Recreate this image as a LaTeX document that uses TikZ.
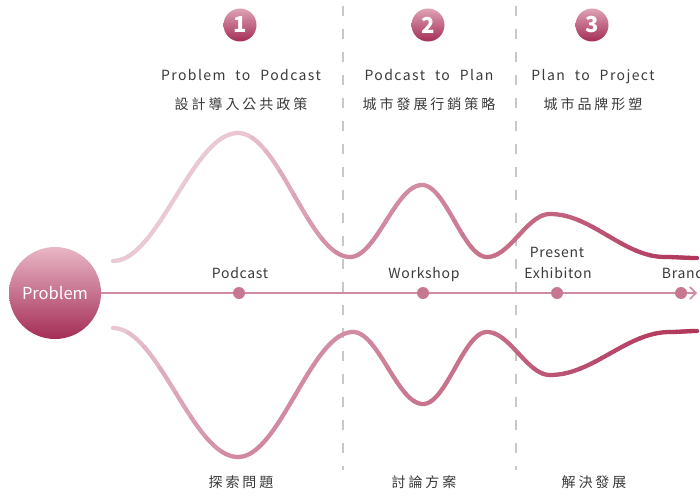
\documentclass[tikz,border=0pt]{standalone}
\usepackage{fontspec}
\setmainfont{Noto Sans CJK TC}
\newfontfamily\spaced{Noto Sans CJK TC}[LetterSpace=5]
\newfontfamily\widespaced{Noto Sans CJK TC}[LetterSpace=10,WordSpace=2.2]
\newfontfamily\cjkspaced{Noto Sans CJK TC}[LetterSpace=21]
\usetikzlibrary{arrows.meta}
\definecolor{curveL}{HTML}{EBCCD6}
\definecolor{curveR}{HTML}{B0365A}
\definecolor{axisc}{HTML}{CF8BA1}
\definecolor{dotc}{HTML}{C87790}
\definecolor{txt}{HTML}{3A3A3A}
\definecolor{sepc}{HTML}{C8C8C8}
\definecolor{ballT}{HTML}{E9B7C6}
\definecolor{ballB}{HTML}{A42D56}

\begin{document}
\begin{tikzpicture}[x=1pt,y=-1pt,
  prob/.style={circle,minimum size=92pt,inner sep=0pt,top color=ballT,bottom color=ballB,text=white,font=\fontsize{16.5}{16.5}\selectfont},
  num/.style={circle,minimum size=33pt,inner sep=0pt,top color=ballT!85!ballB,bottom color=ballB,text=white,font=\fontsize{22}{22}\selectfont\bfseries},
  dot/.style={circle,fill=dotc,minimum size=12pt,inner sep=0pt},
  lab/.style={text=txt,font=\fontsize{14}{16}\selectfont\spaced,inner sep=0pt,anchor=base},
  head/.style={text=txt,font=\fontsize{14}{16}\selectfont\widespaced,inner sep=0pt,anchor=base},
  cjk/.style={text=txt,font=\fontsize{14}{16}\selectfont\cjkspaced,inner sep=0pt,anchor=base},
  sep/.style={sepc,line width=1.5pt,dash pattern=on 10pt off 13pt},
  axis/.style={axisc,line width=1.6pt,-{Straight Barb[length=6pt,width=12pt]}},
  wave/.style={line width=4.3pt,line cap=round}]
  \useasboundingbox (0,0) rectangle (700,495);
  % stage separators
  \coordinate (s1a) at (343,6); \coordinate (s1b) at (343,470);
  \coordinate (s2a) at (516,6); \coordinate (s2b) at (516,470);
  \draw[sep] (s1a) -- (s1b);
  \draw[sep] (s2a) -- (s2b);
  % upper and lower waves: x/y/shade at each turning point
  \foreach \xa/\ya/\ta/\xb/\yb/\tb in {
      113/261/2/238/133/2, 238/133/2/350/257/48, 350/257/48/422/185/42,
      422/185/42/487/257/62, 487/257/62/550/214/68, 550/214/68/665/257/95,
      665/257/95/697/258/100,
      113/328/2/238/457/46, 238/457/46/353/332/42, 353/332/42/423/404/60,
      423/404/60/487/332/60, 487/332/60/550/375/80, 550/375/80/670/332/95,
      670/332/95/697/331/100}{
    \foreach \k in {0,...,7}{
      \pgfmathsetmacro\ua{\xa+(\xb-\xa)*\k/8}
      \pgfmathsetmacro\ub{\xa+(\xb-\xa)*(\k+1)/8}
      \pgfmathtruncatemacro\wpct{\ta+(\tb-\ta)*(\k+0.5)/8}
      \colorlet{wc}{curveR!\wpct!curveL}
      \draw[wave,wc] plot[domain=\ua:\ub,samples=6] (\x,{\ya+(\yb-\ya)*(1-cos(180/(\xb-\xa)*(\x-\xa)))/2});
    }
  }
  % timeline
  \node[prob] (prob) at (55,293) {Problem};
  \coordinate (tip) at (697,293);
  \draw[axis] (prob.east) -- (tip);
  \node[dot] (d1) at (239,293) {};
  \node[dot] (d2) at (423,293) {};
  \node[dot] (d3) at (557,293) {};
  \node[dot] (d4) at (681,293) {};
  \node[lab] (podcast) at (240,278.5) {Podcast};
  \node[lab] (workshop) at (424,278.5) {Workshop};
  \node[lab] (present) at (557,257.5) {Present};
  \node[lab] (exhib) at (558,278.5) {Exhibiton};
  \node[lab] (brand) at (683,278.5) {Brand};
  % stage headers
  \node[num] (n1) at (240,25) {1};
  \node[num] (n2) at (428,25) {2};
  \node[num] (n3) at (592,25) {3};
  \node[head] (h1) at (241,80.5) {Problem to Podcast};
  \node[head] (h2) at (429,80.5) {Podcast to Plan};
  \node[head] (h3) at (593,80.5) {Plan to Project};
  \node[cjk] (c1) at (241,109) {設計導入公共政策};
  \node[cjk] (c2) at (429,109) {城市發展行銷策略};
  \node[cjk] (c3) at (593,109) {城市品牌形塑};
  % bottom labels
  \node[cjk] (b1) at (241,487) {探索問題};
  \node[cjk] (b2) at (424,487) {討論方案};
  \node[cjk] (b3) at (594,487) {解決發展};
\end{tikzpicture}
\end{document}
